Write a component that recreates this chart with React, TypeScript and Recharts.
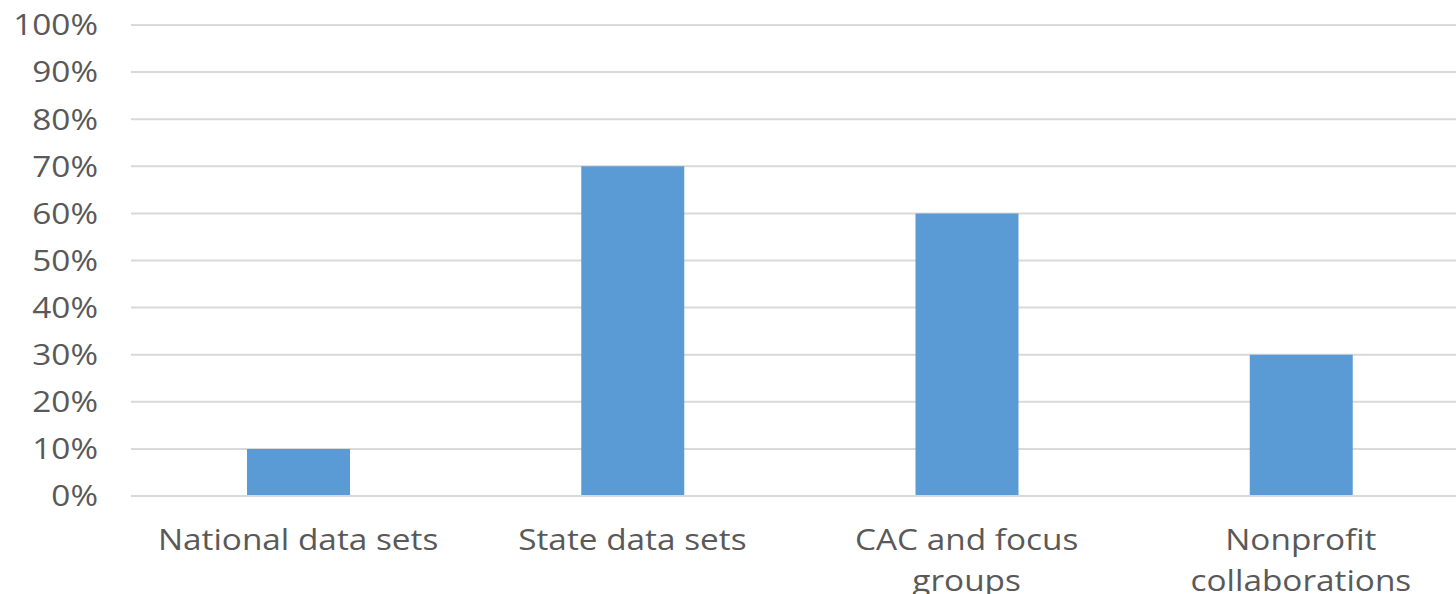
import React from "react";
import { Bar, BarChart, CartesianGrid, XAxis, YAxis } from "recharts";

const categories = [
  "National data sets",
  "State data sets",
  "CAC and focus\ngroups",
  "Nonprofit\ncollaborations",
];
const shares = [10, 70, 60, 30];
const yTicks = [0, 10, 20, 30, 40, 50, 60, 70, 80, 90, 100];

const data = categories.map((name, i) => ({ name, share: shares[i] }));

const TEXT = "#595959";
const GRID = "#d9d9d9";
const FONT = "'Open Sans', sans-serif";
// the source image is stretched sideways a little
const STRETCH = 1.15;

function CategoryTick(props: any) {
  const { x, y, payload } = props;
  const lines = String(payload.value).split("\n");
  return (
    <g transform={`translate(${x},${y + 54}) scale(${STRETCH},1)`}>
      <text x={0} y={0} textAnchor="middle" fill={TEXT} fontSize={29} fontFamily={FONT}>
        {lines.map((line, i) => (
          <tspan key={i} x={0} dy={i === 0 ? 0 : 41}>
            {line}
          </tspan>
        ))}
      </text>
    </g>
  );
}

function PercentTick(props: any) {
  const { x, y, payload } = props;
  return (
    <g transform={`translate(${x},${y}) scale(${STRETCH},1)`}>
      <text x={0} y={0} dy="0.355em" textAnchor="end" fill={TEXT} fontSize={29} fontFamily={FONT}>
        {`${payload.value}%`}
      </text>
    </g>
  );
}

export default function App() {
  return (
    <div
      style={{
        position: "absolute",
        left: 0,
        top: 0,
        width: 1456,
        height: 594,
        overflow: "hidden",
        background: "#fff",
      }}
    >
      <BarChart
        width={1470}
        height={594}
        data={data}
        margin={{ top: 25, right: 2, bottom: 0, left: 0 }}
        barCategoryGap={0}
      >
        <CartesianGrid vertical={false} stroke={GRID} strokeWidth={2} />
        <XAxis
          dataKey="name"
          height={98}
          interval={0}
          tickLine={false}
          tickSize={0}
          tickMargin={0}
          axisLine={{ stroke: GRID, strokeWidth: 2 }}
          tick={<CategoryTick />}
        />
        <YAxis
          width={131}
          domain={[0, 100]}
          ticks={yTicks}
          interval={0}
          axisLine={false}
          tickLine={false}
          tickSize={0}
          tickMargin={33}
          tick={<PercentTick />}
        />
        <Bar dataKey="share" fill="#5b9bd5" barSize={103} isAnimationActive={false} />
      </BarChart>
    </div>
  );
}
